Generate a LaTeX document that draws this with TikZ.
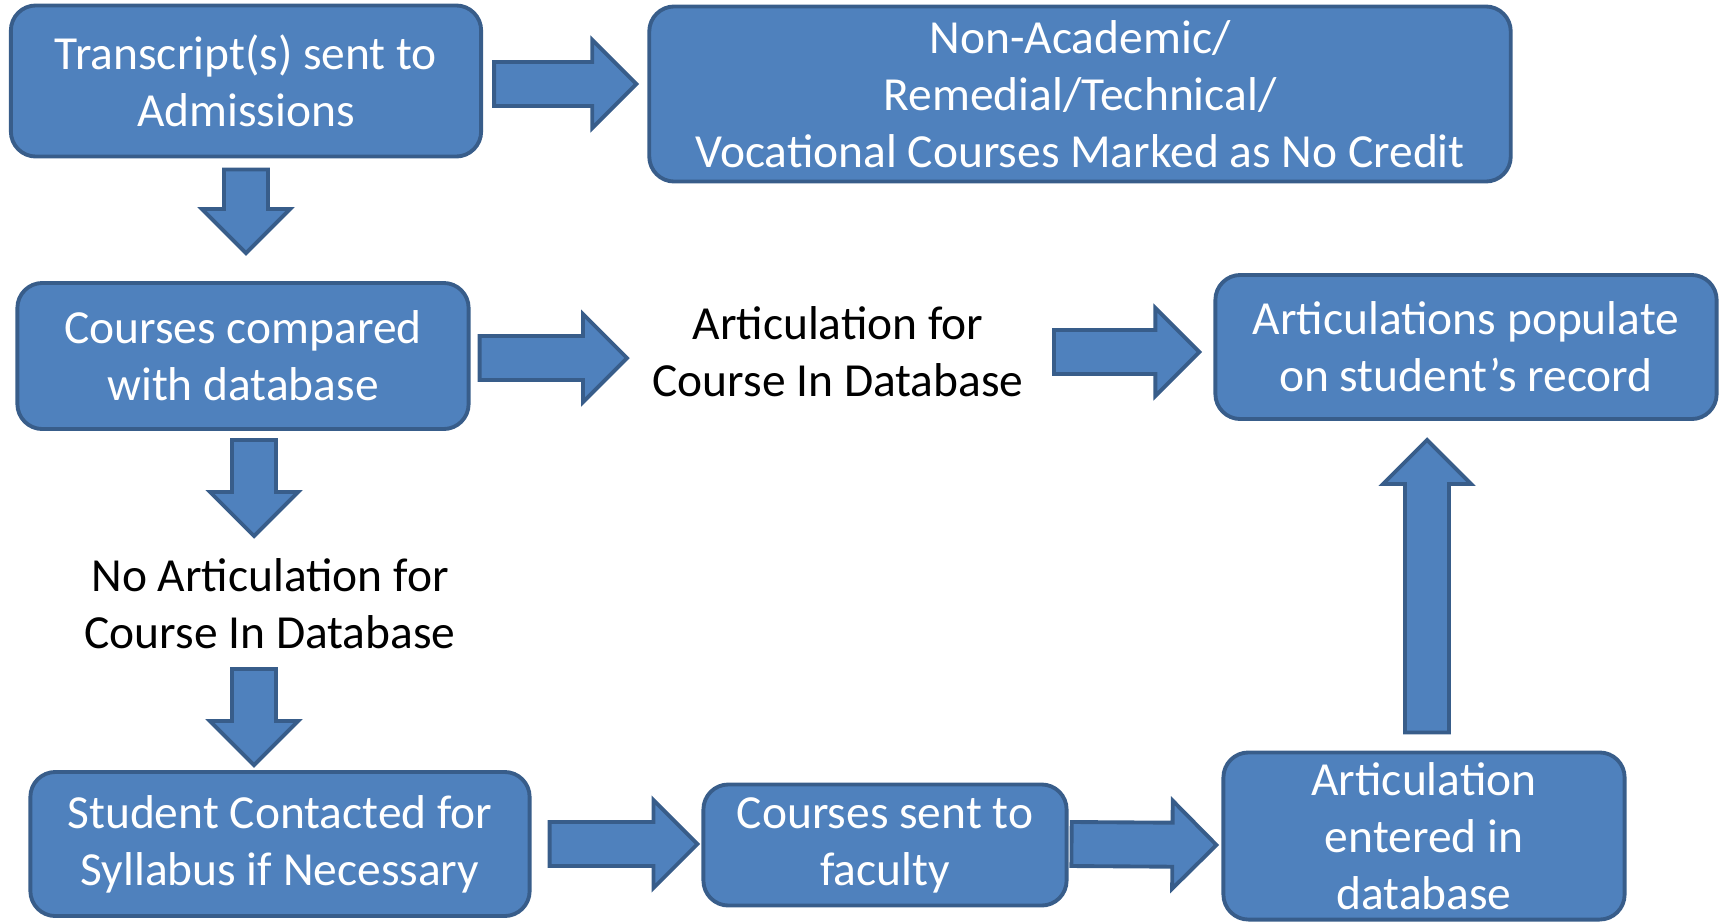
\documentclass[tikz,border=0pt]{standalone}
\usepackage{fontspec}
\setmainfont{Carlito}
\usetikzlibrary{calc}
\definecolor{box fill}{RGB}{79,129,189}
\definecolor{box edge}{RGB}{56,93,138}
\newcommand{\flowfont}{\fontsize{13.5}{16.2}\selectfont}
\def\shaftw{0.22cm}
\def\headw{0.44cm}
\def\headl{0.44cm}
\def\flowlinks{trans.east/{11,3}/nonac.west/{-11,-10},
  trans.south/{0,11}/comp.north/{3,-28},
  comp.east/{9,2}/artin.center/{-211,6},
  artin.center/{216,0}/popul.west/{-14,5},
  comp.south/{11,9}/noart.center/{-16,-68},
  noart.center/{-16,65}/contact.north/{-26,-5},
  contact.east/{18,0}/faculty.west/{-4,-1},
  faculty.east/{3,-1}/entered.west/{-5,9},
  entered.north/{3,-18}/popul.south/{-39,19}}
\tikzset{
  box/.style={rectangle, rounded corners=0.25cm, fill=box fill, draw=box edge,
    line width=1.1pt, text=white, align=center, font=\flowfont, inner sep=0pt},
  label text/.style={align=center, font=\flowfont, inner sep=0pt},
  blockarrow/.style={fill=box fill, draw=box edge, line width=1.1pt, line join=miter,
    to path={let \p1=(\tikztostart), \p2=(\tikztotarget),
      \n1={atan2(\y2-\y1,\x2-\x1)}, \n2={veclen(\x2-\x1,\y2-\y1)} in
      ($(\p1)+(\n1+90:\shaftw)$) -- ++(\n1:{\n2-\headl}) -- ++(\n1+90:{\headw-\shaftw})
      -- (\p2) -- ($(\p1)+(\n1:{\n2-\headl})+(\n1-90:\headw)$)
      -- ++(\n1+90:{\headw-\shaftw}) -- ($(\p1)+(\n1-90:\shaftw)$) -- cycle}}
  }

\begin{document}
\begin{tikzpicture}[x=0.01cm, y=-0.01cm]
  \useasboundingbox (0,0) rectangle (1725,921);
  \clip (0,0) rectangle (1725,921);

  % The boxes
  \node[box, minimum width=4.7cm, minimum height=1.51cm] (trans) at (246,81) {Transcript(s) sent to\\Admissions};
  \node[box, minimum width=8.61cm, minimum height=1.75cm] (nonac) at (1080,94) {Non-Academic/\\Remedial/Technical/\\Vocational Courses Marked as No Credit};
  \node[box, minimum width=4.51cm, minimum height=1.46cm] (comp) at (243,356) {Courses compared\\with database};
  \node[box, minimum width=5.01cm, minimum height=1.44cm] (popul) at (1466,347) {Articulations populate\\on student’s record};
  \node[box, minimum width=4.99cm, minimum height=1.44cm] (contact) at (280,844) {Student Contacted for\\Syllabus if Necessary};
  \node[box, minimum width=3.63cm, minimum height=1.21cm] (faculty) at (885,845) {Courses sent to\\faculty};
  \node[box, minimum width=4.01cm, minimum height=1.67cm] (entered) at (1424,836) {Articulation\\entered in\\database};

  % The plain labels
  \node[label text] (artin) at (838,352) {Articulation for\\Course In Database};
  \node[label text] (noart) at (270,604) {No Articulation for\\Course In Database};

  % The arrows between them
  \foreach \a/\da/\b/\db in \flowlinks
    \draw[blockarrow] ($(\a)+(\da)$) to ($(\b)+(\db)$);
\end{tikzpicture}
\end{document}
